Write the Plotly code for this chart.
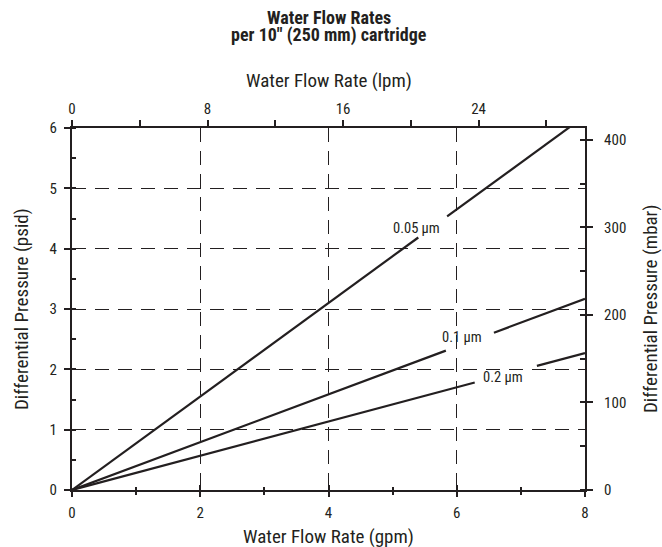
import numpy as np
import plotly.graph_objects as go

# ---- data ----
flow_gpm = [0, 8]
dp_005 = [0, 6.2]     # psid
dp_01 = [0, 3.17]
dp_02 = [0, 2.27]
series_names = ["0.05 µm", "0.1 µm", "0.2 µm"]
label_pos = [(5.38, 4.34), (6.08, 2.52), (6.72, 1.87)]
label_gaps = [(5.40, 5.85), (5.83, 6.58), (6.28, 7.25)]
gpm_ticks = [0, 2, 4, 6, 8]
lpm_ticks = [0, 8, 16, 24]
psid_ticks = [0, 1, 2, 3, 4, 5, 6]
mbar_ticks = [0, 100, 200, 300, 400]

LPM_PER_GPM = 3.78541
MBAR_PER_PSI = 68.9476
INK = "#231f20"
FONT = "Liberation Sans Narrow, Arial Narrow, Roboto Condensed, Liberation Sans, sans-serif"

fig = go.Figure()

for vals, gap in zip([dp_005, dp_01, dp_02], label_gaps):
    g0, g1 = gap
    y0 = float(np.interp(g0, flow_gpm, vals))
    y1 = float(np.interp(g1, flow_gpm, vals))
    xs = [flow_gpm[0], g0, None, g1, flow_gpm[-1]]
    ys = [vals[0], y0, None, y1, vals[-1]]
    fig.add_trace(go.Scatter(x=xs, y=ys, mode="lines", connectgaps=False,
                             line=dict(color=INK, width=2.2), showlegend=False,
                             hoverinfo="skip"))

for name, (lx, ly) in zip(series_names, label_pos):
    fig.add_annotation(x=lx, y=ly, xref="x", yref="y", text=name, showarrow=False,
                       font=dict(family=FONT, size=14.5, color=INK))

# invisible traces to activate the secondary axes
for xa, ya in [("x2", "y"), ("x", "y2"), ("x3", "y"), ("x", "y3")]:
    fig.add_trace(go.Scatter(x=[0], y=[0], xaxis=xa, yaxis=ya, mode="markers",
                             marker=dict(opacity=0), showlegend=False, hoverinfo="skip"))

tickfont = dict(family=FONT, size=15, color=INK)
grid = dict(showgrid=True, gridcolor=INK, gridwidth=1, griddash="14px,9px")

fig.update_layout(
    width=662, height=547,
    margin=dict(l=72, r=77, t=128, b=57),
    paper_bgcolor="white", plot_bgcolor="white",
    font=dict(family=FONT, color=INK),
    xaxis=dict(range=[0, 8], tickvals=gpm_ticks, ticks="outside", ticklen=5,
               tickwidth=2, tickcolor=INK, showline=True, linecolor=INK, linewidth=2.2,
               tickfont=tickfont, zeroline=False, ticklabelstandoff=3,
               minor=dict(dtick=1, ticks="outside", ticklen=3, tickwidth=2, tickcolor=INK),
               **grid),
    xaxis2=dict(range=[0, 8 * LPM_PER_GPM], overlaying="x", side="top",
                tickvals=lpm_ticks, ticks="outside", ticklen=6, tickwidth=2, tickcolor=INK,
                showline=True, linecolor=INK, linewidth=2.2, tickfont=tickfont,
                showgrid=False, zeroline=False, ticklabelstandoff=0,
                minor=dict(dtick=4, ticks="outside", ticklen=6, tickwidth=2, tickcolor=INK)),
    xaxis3=dict(range=[0, 8], overlaying="x", side="bottom", tickvals=gpm_ticks,
                ticks="inside", ticklen=5, tickwidth=2, tickcolor=INK, showticklabels=False,
                showgrid=False, zeroline=False, showline=False,
                minor=dict(dtick=1, ticks="inside", ticklen=3, tickwidth=2, tickcolor=INK)),
    yaxis=dict(range=[0, 6], tickvals=psid_ticks, ticks="outside", ticklen=6, tickwidth=2,
               tickcolor=INK, showline=True, linecolor=INK, linewidth=2.2,
               tickfont=tickfont, zeroline=False, ticklabelstandoff=4,
               minor=dict(dtick=0.5, ticks="inside", ticklen=4, tickwidth=1.5, tickcolor=INK,
                          showgrid=False),
               **grid),
    yaxis2=dict(range=[0, 6 * MBAR_PER_PSI], overlaying="y", side="right",
                tickvals=mbar_ticks, ticks="outside", ticklen=6, tickwidth=2, tickcolor=INK,
                showline=True, linecolor=INK, linewidth=2.2, tickfont=tickfont,
                showgrid=False, zeroline=False, ticklabelstandoff=8,
                minor=dict(dtick=50, ticks="inside", ticklen=5, tickwidth=1.5, tickcolor=INK)),
    yaxis3=dict(range=[0, 6 * MBAR_PER_PSI], overlaying="y", side="right",
                tickvals=mbar_ticks, ticks="inside", ticklen=5, tickwidth=2, tickcolor=INK,
                showticklabels=False, showgrid=False, zeroline=False, showline=False),
)

# title (two tightly spaced lines)
tfont = dict(family=FONT, size=18, color=INK)
fig.add_annotation(text="<b>Water Flow Rates</b>", xref="paper", yref="paper",
                   x=0.5, y=1, yanchor="middle", yshift=128 - 17, showarrow=False, font=tfont)
fig.add_annotation(text="<b>per 10\" (250 mm) cartridge</b>", xref="paper", yref="paper",
                   x=0.5, y=1, yanchor="middle", yshift=128 - 35, showarrow=False, font=tfont)

titlefont = dict(family=FONT, size=19, color=INK)
fig.add_annotation(text="Water Flow Rate (lpm)", xref="paper", yref="paper", x=0.5, y=1,
                   yanchor="middle", yshift=128 - 80, showarrow=False, font=titlefont)
fig.add_annotation(text="Water Flow Rate (gpm)", xref="paper", yref="paper", x=0.5, y=0,
                   yanchor="middle", yshift=-(536 - 490), showarrow=False, font=titlefont)
fig.add_annotation(text="Differential Pressure (psid)", xref="paper", yref="paper", x=0, y=0.5,
                   xanchor="center", xshift=21 - 72, textangle=-90, showarrow=False, font=titlefont)
fig.add_annotation(text="Differential Pressure (mbar)", xref="paper", yref="paper", x=1, y=0.5,
                   xanchor="center", xshift=650 - 585, textangle=-90, showarrow=False, font=titlefont)

fig.write_html("out.html", config={"displayModeBar": False},
               post_script="document.body.style.margin='0';document.body.style.padding='0';")
